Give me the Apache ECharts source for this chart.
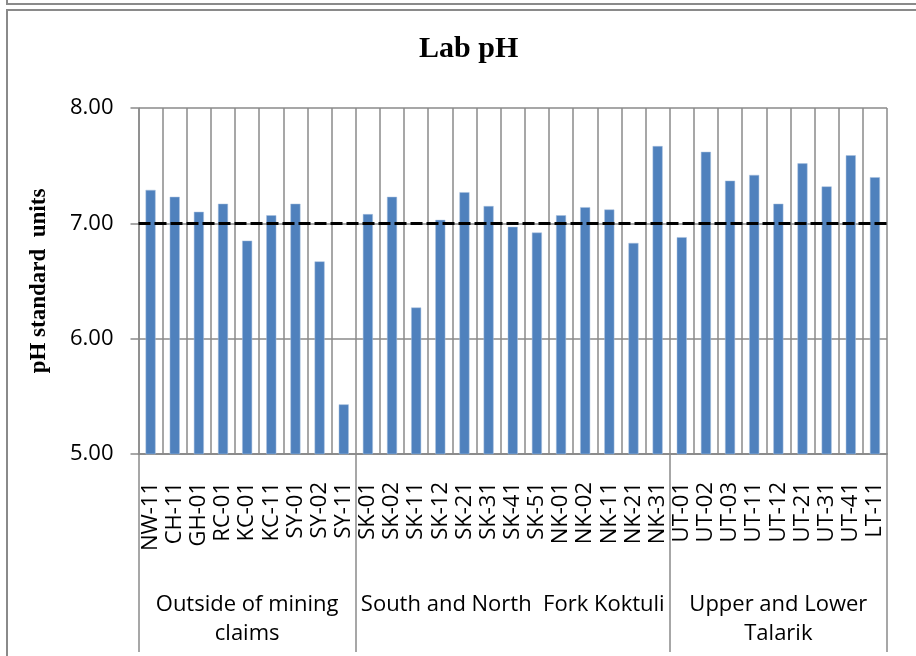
<!DOCTYPE html>
<html>
<head>
<meta charset="utf-8">
<script src="https://cdn.jsdelivr.net/npm/echarts@6/dist/echarts.min.js"></script>
<style>
    html, body { margin: 0; padding: 0; background: #fff; }
    #chart { width: 916px; height: 656px; }
</style>
</head>
<body>
<div id="chart"></div>
<script>
// sample sites, in the order they appear on the axis
const sites = [
    'NW-11', 'CH-11', 'GH-01', 'RC-01', 'KC-01', 'KC-11', 'SY-01', 'SY-02', 'SY-11',
    'SK-01', 'SK-02', 'SK-11', 'SK-12', 'SK-21', 'SK-31', 'SK-41', 'SK-51',
    'NK-01', 'NK-02', 'NK-11', 'NK-21', 'NK-31',
    'UT-01', 'UT-02', 'UT-03', 'UT-11', 'UT-12', 'UT-21', 'UT-31', 'UT-41', 'LT-11'
];
const labPH = [
    7.29, 7.23, 7.10, 7.17, 6.85, 7.07, 7.17, 6.67, 5.43,
    7.08, 7.23, 6.27, 7.03, 7.27, 7.15, 6.97, 6.92,
    7.07, 7.14, 7.12, 6.83, 7.67,
    6.88, 7.62, 7.37, 7.42, 7.17, 7.52, 7.32, 7.59, 7.40
];
const groupNames = ['Outside of mining\nclaims', 'South and North  Fork Koktuli', 'Upper and Lower\nTalarik'];
const groupSizes = [9, 13, 9];
const yTicks = [5, 6, 7, 8];
const neutralPH = 7;

// first index of each group and the index sitting in its middle
let groupStart = [];
let groupMid = [];
let pos = 0;
groupSizes.forEach(function (n) {
    groupStart.push(pos);
    groupMid.push(pos + Math.floor(n / 2));
    pos += n;
});

const gray = '#8a8a8a';
const sans = '"Open Sans", sans-serif';
const serif = '"Liberation Serif", serif';

var chart = echarts.init(document.getElementById('chart'));
chart.setOption({
    animation: false,
    backgroundColor: '#fff',
    title: {
        text: 'Lab pH',
        left: 414,
        top: 29,
        textStyle: {
            fontFamily: serif,
            fontWeight: 'bold',
            fontSize: 30,
            color: '#000'
        }
    },
    graphic: [{
        type: 'rect',
        shape: { x: 7, y: -100, width: 1000, height: 104 },
        style: { fill: 'none', stroke: gray, lineWidth: 2 }
    }, {
        type: 'rect',
        shape: { x: 7, y: 10, width: 1000, height: 1000 },
        style: { fill: 'none', stroke: gray, lineWidth: 2 }
    }],
    grid: {
        left: 138.5,
        right: 29,
        top: 108,
        bottom: 202
    },
    xAxis: [{
        type: 'category',
        data: sites,
        axisLine: { lineStyle: { color: gray, width: 1.5 } },
        axisTick: {
            interval: 0,
            length: 103,
            lineStyle: { color: gray, width: 1.5 }
        },
        splitLine: {
            show: true,
            interval: 0,
            lineStyle: { color: gray, width: 1.5 }
        },
        axisLabel: {
            interval: 0,
            rotate: 90,
            margin: 28,
            fontFamily: sans,
            fontSize: 22,
            color: '#000'
        }
    }, {
        type: 'category',
        data: sites,
        position: 'bottom',
        axisLine: { show: true, lineStyle: { color: gray, width: 1.5 } },
        axisTick: {
            show: true,
            interval: function (i) { return groupStart.indexOf(i) >= 0; },
            length: 198,
            lineStyle: { color: gray, width: 1.5 }
        },
        axisLabel: {
            interval: function (i) { return groupMid.indexOf(i) >= 0; },
            formatter: function (v, i) { return groupNames[groupMid.indexOf(i)] || ''; },
            margin: 136,
            fontFamily: sans,
            fontSize: 22,
            lineHeight: 29,
            color: '#000'
        }
    }],
    yAxis: {
        type: 'value',
        min: yTicks[0],
        max: yTicks[yTicks.length - 1],
        interval: 1,
        name: 'pH standard  units',
        nameLocation: 'middle',
        nameGap: 88,
        nameTextStyle: {
            fontFamily: serif,
            fontWeight: 'bold',
            fontSize: 23,
            color: '#000'
        },
        axisLine: { show: true, lineStyle: { color: gray, width: 1.5 } },
        axisTick: { show: true, length: 8, lineStyle: { color: gray, width: 1.5 } },
        splitLine: { lineStyle: { color: gray, width: 1.5 } },
        axisLabel: {
            margin: 25,
            formatter: function (v) { return v.toFixed(2); },
            fontFamily: sans,
            fontSize: 22,
            color: '#000'
        }
    },
    series: [{
        name: 'Lab pH',
        type: 'bar',
        data: labPH,
        barWidth: 10,
        itemStyle: {
            color: '#4f81bd',
            borderColor: '#a9c0de',
            borderWidth: 0.5
        },
        markLine: {
            silent: true,
            symbol: 'none',
            label: { show: false },
            lineStyle: { color: '#000', width: 3, type: [12, 4] },
            data: [{ yAxis: neutralPH }]
        }
    }]
});
</script>
</body>
</html>
